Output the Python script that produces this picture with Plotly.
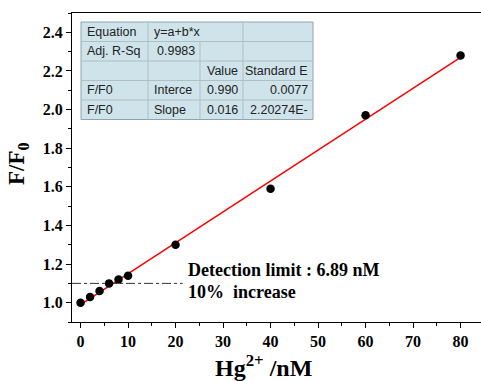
import plotly.graph_objects as go

# ---- data ----
conc_nM = [0, 2, 4, 6, 8, 10, 20, 40, 60, 80]
ratio_F_F0 = [1.00, 1.03, 1.06, 1.10, 1.12, 1.14, 1.30, 1.59, 1.97, 2.28]
fit_intercept = 0.990
fit_slope = 0.016
fit_x = [0, 80]
detect_level = 1.10
detect_x = [-1.8, 21.5]
x_ticks = [0, 10, 20, 30, 40, 50, 60, 70, 80]
y_ticks = [1.0, 1.2, 1.4, 1.6, 1.8, 2.0, 2.2, 2.4]
y_tick_labels = ["1.0", "1.2", "1.4", "1.6", "1.8", "2.0", "2.2", "2.4"]
table_rows = [
    ["Equation", "y=a+b*x", "", ""],
    ["Adj. R-Sq", "0.9983", "", ""],
    ["", "", "Value", "Standard E"],
    ["F/F0", "Interce", "0.990", "0.0077"],
    ["F/F0", "Slope", "0.016", "2.20274E-"],
]

W, H = 481, 381
L, R, T, B = 72, 0, 13, 59
pw, ph = W - L - R, H - T - B

def px(x):
    return (x - L) / pw

def py(y):
    return (H - B - y) / ph

serif = "Liberation Serif, Times New Roman, serif"

fig = go.Figure()

fit_y = [fit_intercept + fit_slope * x for x in fit_x]
fig.add_trace(go.Scatter(x=fit_x, y=fit_y, mode="lines",
                         line=dict(color="#ff0000", width=1.5), showlegend=False))
fig.add_trace(go.Scatter(x=detect_x, y=[detect_level, detect_level], mode="lines",
                         line=dict(color="#333333", width=1, dash="dashdot"), showlegend=False))
fig.add_trace(go.Scatter(x=conc_nM, y=ratio_F_F0, mode="markers",
                         marker=dict(color="black", size=8.5), showlegend=False))

fig.update_layout(
    width=W, height=H,
    margin=dict(l=L, r=R, t=T, b=B, autoexpand=False),
    plot_bgcolor="white", paper_bgcolor="white",
    font=dict(family=serif, color="black"),
)
fig.update_xaxes(range=[-1.8, 84.3], tickvals=x_ticks, showgrid=False, zeroline=False,
                 automargin=False,
                 showline=True, linecolor="black", linewidth=1.2, mirror=True,
                 ticks="outside", ticklen=5, tickcolor="black",
                 minor=dict(dtick=5, tick0=0, ticks="outside", ticklen=3, tickcolor="black"),
                 tickfont=dict(family=serif, size=16, color="black", weight="bold"))
fig.update_yaxes(range=[0.9, 2.5], tickvals=y_ticks, ticktext=y_tick_labels,
                 showgrid=False, zeroline=False, automargin=False,
                 showline=True, linecolor="black", linewidth=1.2,
                 ticks="outside", ticklen=5, tickcolor="black",
                 minor=dict(dtick=0.1, tick0=0.9, ticks="outside", ticklen=3, tickcolor="black"),
                 tickfont=dict(family=serif, size=16, color="black", weight="bold"))

# axis titles
fig.add_annotation(x=px(18), y=py(164), xref="paper", yref="paper", showarrow=False,
                   text="<b>F/F<sub>0</sub></b>", textangle=-90,
                   font=dict(family=serif, size=23, color="black"),
                   xanchor="center", yanchor="middle")
fig.add_annotation(x=px(263), y=py(366), xref="paper", yref="paper", showarrow=False,
                   text="<b>Hg<sup>2+</sup> /nM</b>", font=dict(family=serif, size=24, color="black"),
                   xanchor="center", yanchor="middle")

# detection limit text
fig.add_annotation(x=22.3, y=1.17, xref="x", yref="y", showarrow=False, xanchor="left",
                   text="<b>Detection limit : 6.89 nM</b>", font=dict(family=serif, size=18))
fig.add_annotation(x=22.3, y=1.055, xref="x", yref="y", showarrow=False, xanchor="left",
                   text="<b>10%  increase</b>", font=dict(family=serif, size=18))

# table
col_edges = [81, 148, 200, 243, 313]
row_edges = [22, 41.5, 61, 80.5, 100, 119.5]
shapes = []
shapes.append(dict(type="rect", xref="paper", yref="paper",
                   x0=px(col_edges[0]), x1=px(col_edges[-1]),
                   y0=py(row_edges[-1]), y1=py(row_edges[0]),
                   fillcolor="#cfe3ea", line=dict(color="#8fa3ad", width=1), layer="above"))
for r in row_edges[1:-1]:
    shapes.append(dict(type="line", xref="paper", yref="paper",
                       x0=px(col_edges[0]), x1=px(col_edges[-1]), y0=py(r), y1=py(r),
                       line=dict(color="#aebfc6", width=1), layer="above"))
for ci, c in enumerate(col_edges[1:-1], start=1):
    for ri in range(len(row_edges) - 1):
        if ri == 0 and ci == 2:
            continue
        shapes.append(dict(type="line", xref="paper", yref="paper",
                           x0=px(c), x1=px(c), y0=py(row_edges[ri]), y1=py(row_edges[ri + 1]),
                           line=dict(color="#aebfc6", width=1), layer="above"))
fig.update_layout(shapes=shapes)

for ri, row in enumerate(table_rows):
    yc = (row_edges[ri] + row_edges[ri + 1]) / 2
    for ci, txt in enumerate(row):
        if not txt:
            continue
        if ci in (0, 1):
            xx, anc = col_edges[ci] + 4 + (3 if (ci == 1 and ri == 1) else 0), "left"
        else:
            xx, anc = col_edges[ci + 1] - 3, "right"
        fig.add_annotation(x=px(xx), y=py(yc), xref="paper", yref="paper", showarrow=False,
                           text=txt, xanchor=anc, yanchor="middle",
                           font=dict(family="Liberation Sans, Arial, sans-serif", size=12.5, color="#222222"))

fig.write_html("out.html", config={"displayModeBar": False},
               post_script="document.body.style.margin='0';document.body.style.padding='0';")
